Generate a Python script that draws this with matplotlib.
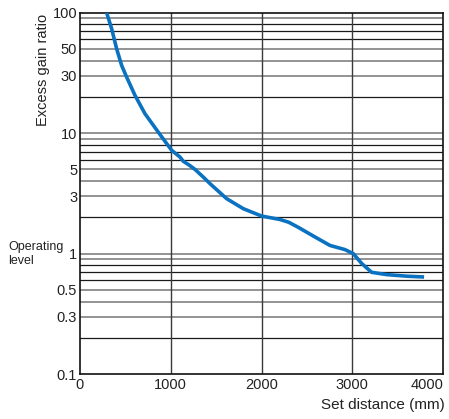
import matplotlib.pyplot as plt
import numpy as np

# values
distance_mm = [294, 349, 404, 459, 514, 606, 716, 862, 1010, 1101, 1138, 1200,
               1267, 1358, 1432, 1615, 1799, 2001, 2203, 2300, 2400, 2570,
               2753, 2919, 3010, 3102, 3212, 3377, 3598, 3790]
gain_ratio = [100, 73.6, 50.2, 36.5, 29.2, 20.6, 14.5, 10.2, 7.2, 6.34, 5.84,
              5.45, 5.0, 4.32, 3.81, 2.86, 2.36, 2.05, 1.92, 1.82, 1.66, 1.40,
              1.17, 1.08, 1.0, 0.83, 0.70, 0.67, 0.65, 0.64]

x_ticks = [0, 1000, 2000, 3000, 4000]
y_ticks = [0.1, 0.3, 0.5, 1, 3, 5, 10, 30, 50, 100]
y_tick_labels = ["0.1", "0.3", "0.5", "1", "3", "5", "10", "30", "50", "100"]

plt.rcParams.update({
    "font.family": ["Liberation Sans", "DejaVu Sans"],
    "font.size": 10.5,
})

fig = plt.figure(figsize=(4.49, 4.19), dpi=100)
ax = fig.add_axes([0.178, 0.107, 0.809, 0.863])

# horizontal grid at every log step, grey or black as in the print
gray_vals = [90, 50, 40, 30, 10, 9, 5, 4, 3, 1, 0.9, 0.5, 0.4, 0.3]
black_vals = [80, 70, 60, 20, 8, 7, 6, 2, 0.8, 0.7, 0.6, 0.2]
for v in gray_vals:
    ax.axhline(v, color="#8a8a8a", lw=1.3, zorder=1)
for v in black_vals:
    ax.axhline(v, color="#1a1a1a", lw=0.9, zorder=1)
for v in x_ticks[1:-1]:
    ax.axvline(v, color="#3a3a3a", lw=1.0, zorder=1)

ax.plot(distance_mm, gain_ratio, color="#0a72c0", lw=2.6,
        solid_capstyle="butt", solid_joinstyle="round", zorder=3)

ax.set_yscale("log")
ax.set_xlim(0, 4000)
ax.set_ylim(0.1, 100)
ax.set_xticks(x_ticks)
ax.set_yticks(y_ticks)
ax.set_yticklabels(y_tick_labels)
ax.yaxis.set_minor_locator(plt.NullLocator())
ax.tick_params(axis="both", length=0, labelsize=10.5, colors="#222222", pad=3)
ax.tick_params(axis="y", pad=2)
ax.get_xticklabels()[-1].set_horizontalalignment("right")
for s in ax.spines.values():
    s.set_color("#111111")
    s.set_linewidth(1.2)

fig.text(43 / 449, 1 - 70 / 419, "Excess gain ratio", rotation=90,
         ha="center", va="center", fontsize=10.5, color="#222222")
fig.text(8 / 449, 1 - 254 / 419, "Operating\nlevel", ha="left", va="center",
         fontsize=9, linespacing=1.15, color="#222222")
fig.text(445 / 449, 1 - 405 / 419, "Set distance (mm)", ha="right",
         va="center", fontsize=11, color="#222222")

fig.savefig("out.png", dpi=100)
